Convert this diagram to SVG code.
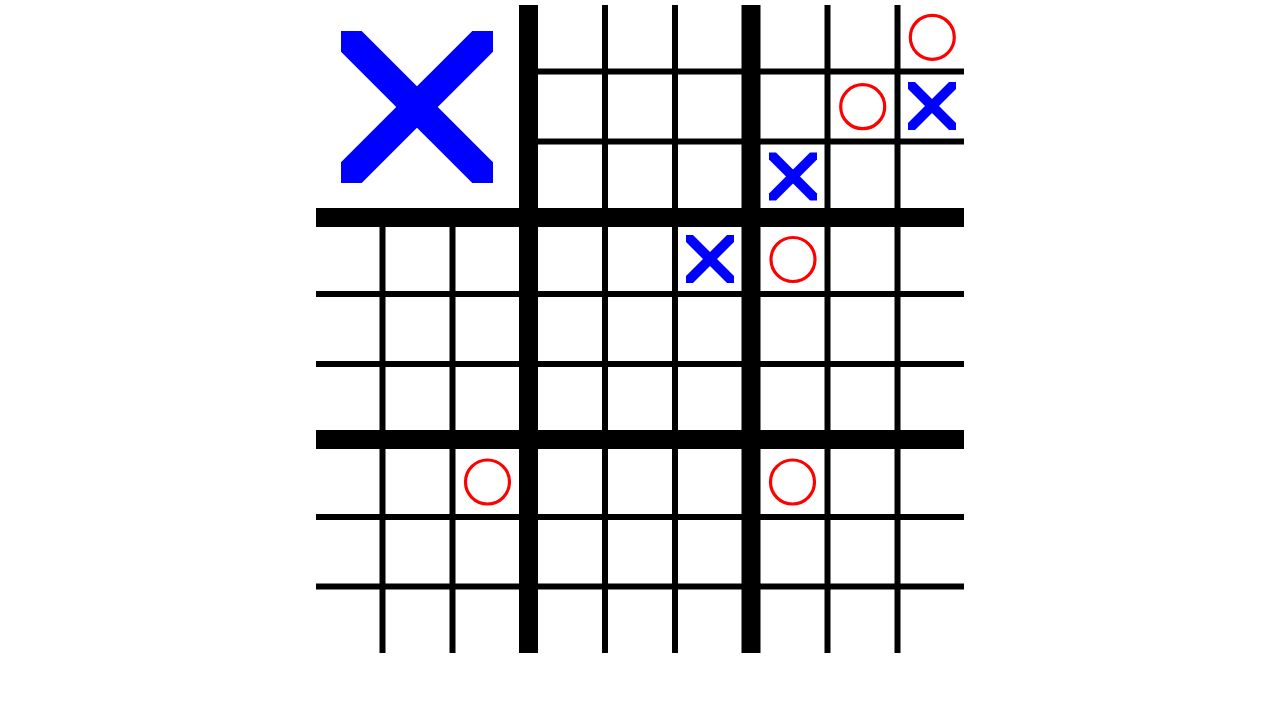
<svg xmlns="http://www.w3.org/2000/svg" width="1280" height="720" viewBox="0 0 1280 720">
<style>
.bg{fill:#ffffff}
.thin{fill:#000000}
.thick{fill:#000000}
.x{fill:#0000ff}
.o{fill:none;stroke:#ff0000;stroke-width:3.2}
</style>
<rect class="bg" x="0" y="0" width="1280" height="720"/>
<g id="grid">
  <g id="thin-lines">
    <rect class="thin" x="379.5" y="208" width="6" height="445"/>
    <rect class="thin" x="449.5" y="208" width="6" height="445"/>
    <rect class="thin" x="602" y="5" width="6" height="648"/>
    <rect class="thin" x="672" y="5" width="6" height="648"/>
    <rect class="thin" x="824.5" y="5" width="6" height="648"/>
    <rect class="thin" x="894.5" y="5" width="6" height="648"/>
    <rect class="thin" x="528" y="68.5" width="436" height="6"/>
    <rect class="thin" x="528" y="138.5" width="436" height="6"/>
    <rect class="thin" x="316" y="291" width="648" height="6"/>
    <rect class="thin" x="316" y="361" width="648" height="6"/>
    <rect class="thin" x="316" y="514" width="648" height="6"/>
    <rect class="thin" x="316" y="583.5" width="648" height="6"/>
  </g>
  <g id="thick-lines">
    <rect class="thick" x="519" y="5" width="19" height="648"/>
    <rect class="thick" x="741.5" y="5" width="19" height="648"/>
    <rect class="thick" x="316" y="208" width="648" height="19"/>
    <rect class="thick" x="316" y="430" width="648" height="19"/>
  </g>
</g>
<g id="connectors"></g>
<g id="big-x-board0">
  <polygon class="x" points="341,31 361.7,31 493,162.3 493,183 472.3,183 341,51.7"/>
  <polygon class="x" points="493,31 472.3,31 341,162.3 341,183 361.7,183 493,51.7"/>
</g>
<g id="x-r1c8">
  <polygon class="x" points="908,82 915,82 956,123 956,130 949,130 908,89"/>
  <polygon class="x" points="956,82 949,82 908,123 908,130 915,130 956,89"/>
</g>
<g id="x-r2c6">
  <polygon class="x" points="769,152.5 776,152.5 817,193.5 817,200.5 810,200.5 769,159.5"/>
  <polygon class="x" points="817,152.5 810,152.5 769,193.5 769,200.5 776,200.5 817,159.5"/>
</g>
<g id="x-r3c5">
  <polygon class="x" points="686,235 693,235 734,276 734,283 727,283 686,242"/>
  <polygon class="x" points="734,235 727,235 686,276 686,283 693,283 734,242"/>
</g>
<g id="o-r0c8"><circle class="o" cx="932.3" cy="37.3" r="22"/></g>
<g id="o-r1c7"><circle class="o" cx="862.7" cy="106.7" r="22"/></g>
<g id="o-r3c6"><circle class="o" cx="793" cy="259.5" r="22"/></g>
<g id="o-r6c2"><circle class="o" cx="487.5" cy="482" r="22"/></g>
<g id="o-r6c6"><circle class="o" cx="792.5" cy="482" r="22"/></g>
</svg>
